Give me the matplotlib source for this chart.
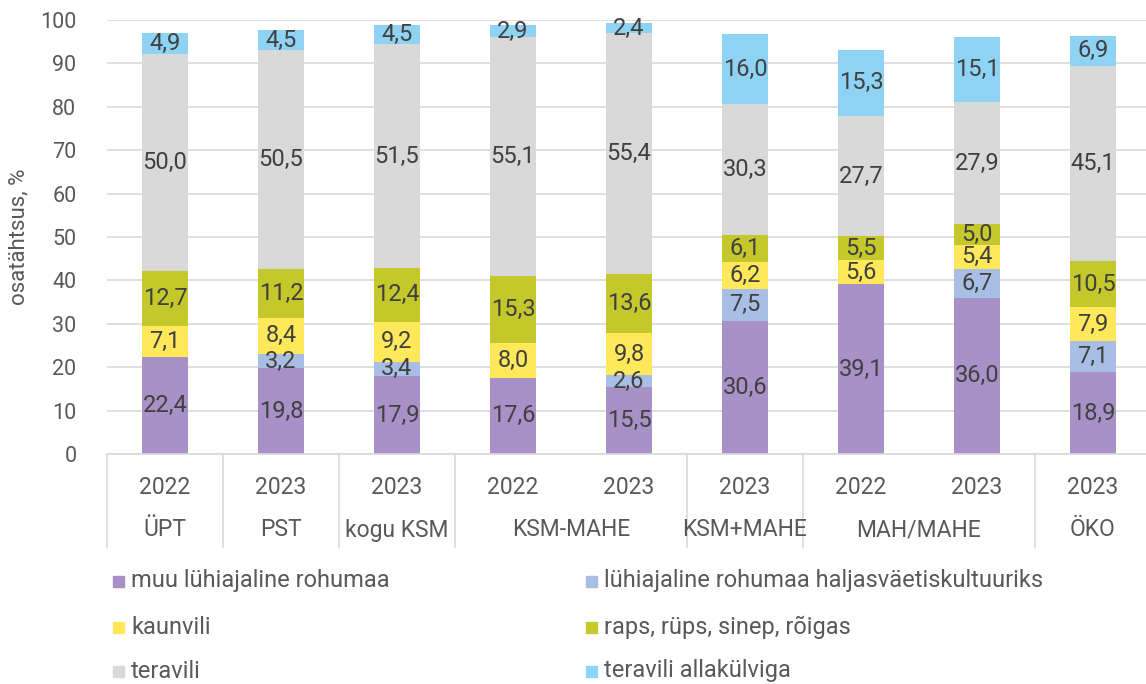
import numpy as np
import matplotlib
matplotlib.use("Agg")
import matplotlib.pyplot as plt
from matplotlib.patches import Rectangle

plt.rcParams['font.family'] = ['Roboto', 'DejaVu Sans']

# andmed
groups = ['ÜPT', 'PST', 'kogu KSM', 'KSM-MAHE', 'KSM+MAHE', 'MAH/MAHE', 'ÖKO']
group_sizes = [1, 1, 1, 2, 1, 2, 1]
years = ['2022', '2023', '2023', '2022', '2023', '2023', '2022', '2023', '2023']

muu = [22.4, 19.8, 17.9, 17.6, 15.5, 30.6, 39.1, 36.0, 18.9]
haljas = [0, 3.2, 3.4, 0, 2.6, 7.5, 0, 6.7, 7.1]
kaun = [7.1, 8.4, 9.2, 8.0, 9.8, 6.2, 5.6, 5.4, 7.9]
raps = [12.7, 11.2, 12.4, 15.3, 13.6, 6.1, 5.5, 5.0, 10.5]
tera = [50.0, 50.5, 51.5, 55.1, 55.4, 30.3, 27.7, 27.9, 45.1]
alla = [4.9, 4.5, 4.5, 2.9, 2.4, 16.0, 15.3, 15.1, 6.9]

series = [
    ('muu lühiajaline rohumaa', muu, '#A791C6'),
    ('lühiajaline rohumaa haljasväetiskultuuriks', haljas, '#A8BEE4'),
    ('kaunvili', kaun, '#FFE85A'),
    ('raps, rüps, sinep, rõigas', raps, '#C4C82B'),
    ('teravili', tera, '#D9D9D9'),
    ('teravili allakülviga', alla, '#8ED3F4'),
]

fig = plt.figure(figsize=(11.46, 6.84), dpi=100)
ax = fig.add_axes([107 / 1146, 1 - 454 / 684, 1044 / 1146, 434 / 684])

x = np.arange(len(years))
bottom = np.zeros(len(years))
for name, vals, col in series:
    vals = np.array(vals, dtype=float)
    ax.bar(x, vals, 0.4, bottom=bottom, color=col, zorder=2)
    for xi, b, v in zip(x, bottom, vals):
        if v > 0:
            ax.text(xi, b + v / 2, f"{v:.1f}".replace('.', ','), ha='center', va='center',
                    fontsize=17, color='#404040', zorder=3)
    bottom += vals

ax.set_xlim(-0.5, len(years) - 0.5)
ax.set_ylim(0, 100)
ax.set_yticks(range(0, 101, 10))
ax.yaxis.grid(True, color='#D9D9D9', linewidth=1.2, zorder=0)
ax.tick_params(axis='y', length=0, labelsize=15.5, labelcolor='#595959', pad=22)
ax.set_xticks([])
for s in ['top', 'right', 'left']:
    ax.spines[s].set_visible(False)
ax.spines['bottom'].set_color('#D9D9D9')
ax.spines['bottom'].set_linewidth(1.2)
ax.set_ylabel('osatähtsus, %', fontsize=16, color='#595959', labelpad=8)

# kahetasemelised kategooriad
trans = ax.get_xaxis_transform()
y_year = -(487 - 454) / 434
y_grp = -(530 - 454) / 434
y_end = -(547 - 454) / 434
for xi, yr in zip(x, years):
    ax.text(xi, y_year, yr, transform=trans, ha='center', va='center', fontsize=16.5, color='#595959')
pos = -0.5
ax.plot([pos, pos], [0, y_end], transform=trans, color='#D9D9D9', lw=1.2, clip_on=False)
for g, n in zip(groups, group_sizes):
    ax.text(pos + n / 2, y_grp, g, transform=trans, ha='center', va='center', fontsize=16.5, color='#595959')
    pos += n
    ax.plot([pos, pos], [0, y_end], transform=trans, color='#D9D9D9', lw=1.2, clip_on=False)

# legend
leg_x = [113, 586]
leg_y = [581, 627, 671]
for i, (name, vals, col) in enumerate(series):
    lx = leg_x[i % 2]
    ly = leg_y[i // 2]
    fig.patches.append(Rectangle((lx / 1146, 1 - (ly + 6) / 684), 11 / 1146, 11 / 684,
                                 transform=fig.transFigure, color=col))
    fig.text((lx + 18) / 1146, 1 - ly / 684, name, ha='left', va='center', fontsize=17, color='#595959')

fig.savefig('out.png', dpi=100)
